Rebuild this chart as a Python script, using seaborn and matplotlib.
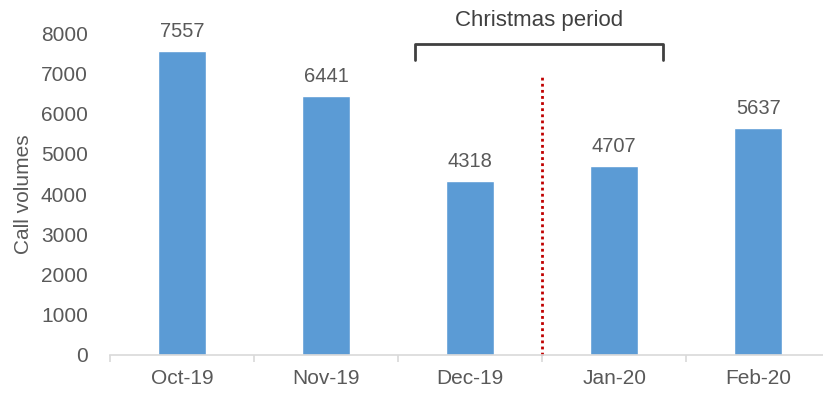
import matplotlib
matplotlib.use('Agg')
import matplotlib.pyplot as plt
import seaborn as sns
import pandas as pd

months = ['Oct-19', 'Nov-19', 'Dec-19', 'Jan-20', 'Feb-20']
calls = [7557, 6441, 4318, 4707, 5637]

# annotation values (data coords)
divider_x = 2.5
divider_top = 6900
bracket_left, bracket_right = 1.62, 3.34
bracket_top, bracket_bottom = 7720, 7320
bracket_label = 'Christmas period'

df = pd.DataFrame({'month': months, 'calls': calls})

sns.set_theme(style='white')
plt.rcParams['font.family'] = ['Liberation Sans', 'DejaVu Sans']
grey = '#595959'

fig = plt.figure(figsize=(8.23, 4.07), dpi=100)
ax = fig.add_axes([0.1337, 0.1278, 0.875, 0.791])

sns.barplot(data=df, x='month', y='calls', color='#5B9BD5', width=0.33,
            saturation=1, ax=ax)

ax.set_ylim(0, 8000)
ax.set_xlim(-0.5, 4.5)
ax.set_yticks(range(0, 8001, 1000))
ax.set_xlabel('')
ax.set_ylabel('Call volumes', fontsize=15, color=grey, labelpad=6)

for s in ['top', 'right', 'left']:
    ax.spines[s].set_visible(False)
ax.spines['bottom'].set_color('#D9D9D9')
ax.spines['bottom'].set_linewidth(1.2)
ax.spines['bottom'].set_clip_on(False)

# category separators as minor ticks
ax.set_xticks([i - 0.5 for i in range(len(months) + 1)], minor=True)
ax.tick_params(axis='x', which='minor', length=5, color='#D9D9D9', width=1.2, bottom=True)
ax.tick_params(axis='x', which='major', length=0, pad=10, labelsize=15, labelcolor=grey)
ax.tick_params(axis='y', length=0, pad=16, labelsize=15, labelcolor=grey)

for i, v in enumerate(calls):
    ax.annotate(str(v), (i, v), xytext=(0, 7), textcoords='offset points',
                ha='center', va='bottom', fontsize=14.5, color=grey,
                annotation_clip=False)

ax.plot([divider_x, divider_x], [0, divider_top], color='#C00000', lw=2,
        ls=(0, (1, 1.2)), clip_on=False)

ax.plot([bracket_left, bracket_left, bracket_right, bracket_right],
        [bracket_bottom, bracket_top, bracket_top, bracket_bottom],
        color='#404040', lw=2, clip_on=False)
ax.text((bracket_left + bracket_right) / 2, bracket_top + 320, bracket_label,
        ha='center', va='bottom', fontsize=16, color='#404040', clip_on=False)

fig.savefig('out.png', dpi=100)
